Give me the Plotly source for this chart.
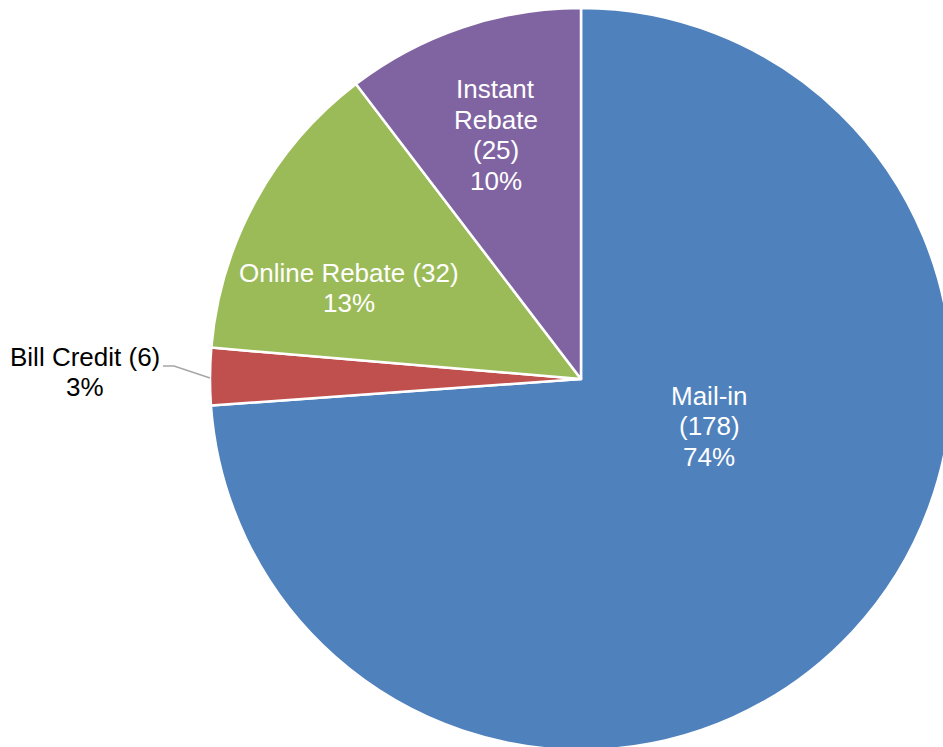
import plotly.graph_objects as go

# slices in clockwise order starting at 12 o'clock
labels = ["Mail-in", "Bill Credit", "Online Rebate", "Instant Rebate"]
counts = [178, 6, 32, 25]
pct_labels = ["74%", "3%", "13%", "10%"]
colors = ["#4F81BD", "#C0504D", "#9BBB59", "#8064A2"]

# the pie runs off the right/bottom edge in the original, so the figure is a bit
# larger than the window and page scrollbars are switched off (see write_html)
W, H = 954, 752
cx, cy, r = 581, 379, 371

fig = go.Figure(go.Pie(
    labels=labels,
    values=counts,
    sort=False,
    direction="clockwise",
    rotation=0,
    textinfo="none",
    hoverinfo="label+value+percent",
    marker=dict(colors=colors, line=dict(color="white", width=2.5)),
    domain=dict(x=[(cx - r) / W, (cx + r) / W], y=[1 - (cy + r) / H, 1 - (cy - r) / H]),
    showlegend=False,
))

# label lines, one annotation per line so the line spacing matches the original
label_lines = [
    ["Mail-in", f"({counts[0]})", pct_labels[0]],
    [f"Bill Credit ({counts[1]})", pct_labels[1]],
    [f"Online Rebate ({counts[2]})", pct_labels[2]],
    ["Instant", "Rebate", f"({counts[3]})", pct_labels[3]],
]
label_pos = [(709, 426), (85, 372), (349, 288), (496, 135)]  # block centres in screen px
label_color = ["white", "black", "white", "white"]
line_gap = 30.5

for lines, (px_, py_), col in zip(label_lines, label_pos, label_color):
    n = len(lines)
    for i, txt in enumerate(lines):
        y = py_ + (i - (n - 1) / 2) * line_gap
        fig.add_annotation(
            x=px_ / W, y=1 - y / H, xref="paper", yref="paper",
            text=txt, showarrow=False,
            xanchor="center", yanchor="middle",
            font=dict(family="Liberation Sans, Arial", size=26, color=col),
        )

# leader line for the small Bill Credit slice
pts = [(163, 366), (174, 366), (210, 378)]
path = "M " + " L ".join(f"{x / W},{1 - y / H}" for x, y in pts)
fig.add_shape(type="path", path=path, xref="paper", yref="paper",
              line=dict(color="#A6A6A6", width=1.5))

fig.update_layout(
    width=W,
    height=H,
    margin=dict(l=0, r=0, t=0, b=0),
    paper_bgcolor="white",
    plot_bgcolor="white",
)

fig.write_html(
    "out.html",
    config={"displayModeBar": False},
    post_script="document.body.style.margin='0';"
                "document.documentElement.style.overflow='hidden';",
)
